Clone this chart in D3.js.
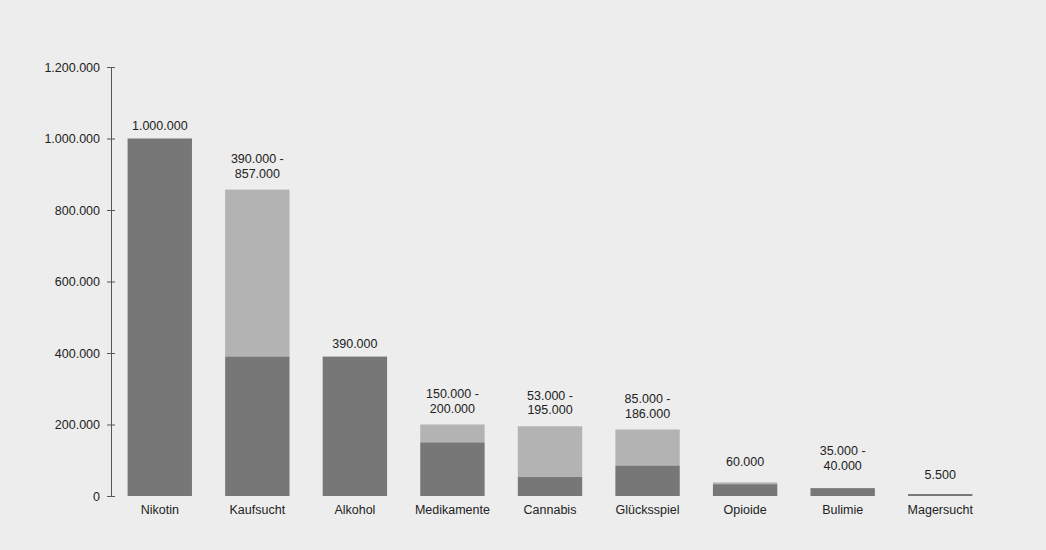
<!DOCTYPE html>
<html>
<head>
<meta charset="utf-8">
<script src="https://cdn.jsdelivr.net/npm/d3@7"></script>
<style>
  body { margin: 0; background: #ededed; }
  svg { display: block; font-family: "Liberation Sans", Arial, sans-serif; }
</style>
</head>
<body>
<svg class="bar_chart"></svg>
<script>
// data
const categories = ["Nikotin", "Kaufsucht", "Alkohol", "Medikamente", "Cannabis", "Glücksspiel", "Opioide", "Bulimie", "Magersucht"];
// lower estimate (dark part)
const lowValues = [1000000, 390000, 390000, 150000, 53000, 85000, 33000, 22000, 5500];
// upper estimate (top of light part)
const highValues = [1000000, 857000, 390000, 200000, 195000, 186000, 38000, 22000, 5500];
// labels above bars and the value they stand for
const barLabels = [
  ["1.000.000"], ["390.000 -", "857.000"], ["390.000"], ["150.000 -", "200.000"],
  ["53.000 -", "195.000"], ["85.000 -", "186.000"], ["60.000"], ["35.000 -", "40.000"], ["5.500"]
];
const labelValues = [1000000, 857000, 390000, 200000, 195000, 186000, 60000, 40000, 5500];
const yTicks = [0, 200000, 400000, 600000, 800000, 1000000, 1200000];

var width = 1046, height = 550;
var margin = {top: 67, left: 111, right: 57, bottom: 54};
var innerW = width - margin.left - margin.right;
var innerH = height - margin.top - margin.bottom;

var svg = d3.select(".bar_chart")
    .attr("width", width)
    .attr("height", height)
    .append("g")
    .attr("transform", "translate(" + margin.left + "," + margin.top + ")");

var x = d3.scaleBand()
    .domain(categories)
    .range([0, innerW])
    .paddingInner(0.34)
    .paddingOuter(0.17);

var y = d3.scaleLinear()
    .domain([0, 1200000])
    .range([innerH, 0]);

var fmt = d3.formatLocale({decimal: ",", thousands: ".", grouping: [3], currency: ["", "€"]}).format(",");

// y axis
var yAxis = svg.append("g")
    .call(d3.axisLeft(y).tickValues(yTicks).tickFormat(fmt).tickSize(4).tickSizeOuter(0).tickPadding(7));
yAxis.select(".domain").attr("stroke", "#555");
yAxis.selectAll(".tick line").attr("stroke", "#555").attr("x2", 4).attr("x1", -4);
yAxis.selectAll(".tick text").attr("fill", "#222").style("font-size", "12.5px");

// light part (upper range)
svg.append("g").selectAll("rect.high")
    .data(categories)
    .enter().append("rect")
    .attr("x", d => x(d))
    .attr("width", x.bandwidth())
    .attr("y", (d, i) => y(highValues[i]))
    .attr("height", (d, i) => y(lowValues[i]) - y(highValues[i]))
    .style("fill", "#b3b3b3");

// dark part (lower estimate)
svg.append("g").selectAll("rect.low")
    .data(categories)
    .enter().append("rect")
    .attr("x", d => x(d))
    .attr("width", x.bandwidth())
    .attr("y", (d, i) => y(lowValues[i]))
    .attr("height", (d, i) => innerH - y(lowValues[i]))
    .style("fill", "#777777");

// value labels
svg.append("g").selectAll("text")
    .data(categories)
    .enter().append("text")
    .attr("text-anchor", "middle")
    .style("font-size", "12.5px")
    .attr("fill", "#222")
    .each(function(d, i) {
        var lines = barLabels[i];
        var gap = lines.length > 1 ? 12 : 8.5;
        var top = Math.max(highValues[i], labelValues[i]);
        var base = Math.min(y(top) - gap, innerH - 17);
        var t = d3.select(this);
        lines.forEach((l, k) => {
            t.append("tspan")
                .attr("x", x(d) + x.bandwidth() / 2)
                .attr("y", base - (lines.length - 1 - k) * 14.5)
                .text(l);
        });
    });

// category labels
svg.append("g").selectAll("text")
    .data(categories)
    .enter().append("text")
    .attr("x", d => x(d) + x.bandwidth() / 2)
    .attr("y", innerH + 18)
    .attr("text-anchor", "middle")
    .style("font-size", "12.5px")
    .attr("fill", "#222")
    .text(d => d);
</script>
</body>
</html>
